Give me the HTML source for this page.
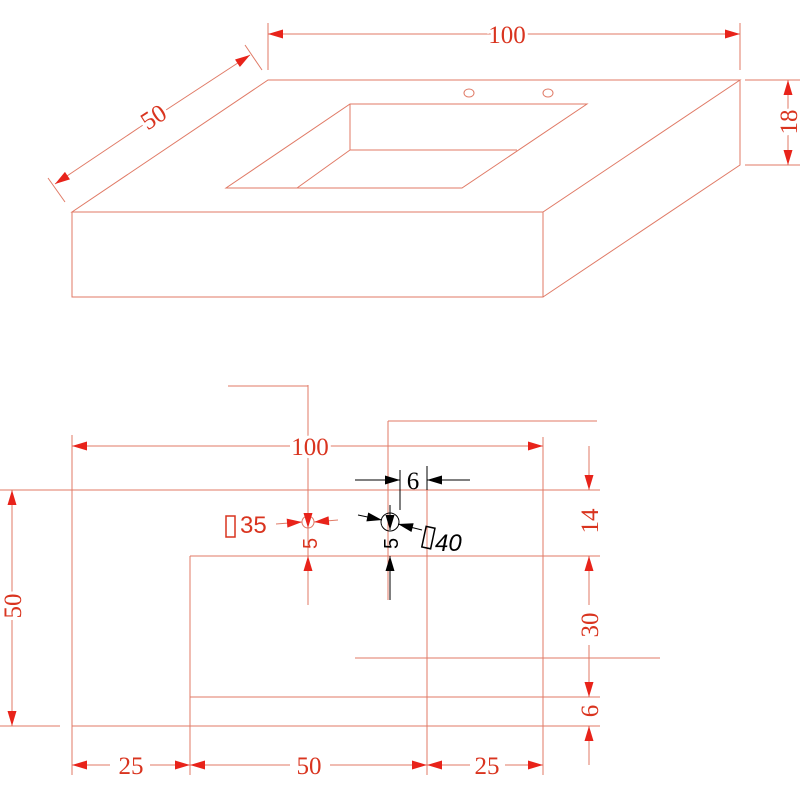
<!DOCTYPE html><html><head><style>body{margin:0;background:#fff}svg{display:block}text{font-family:"Liberation Serif",serif}</style></head><body>
<svg width="800" height="800" viewBox="0 0 800 800" xmlns="http://www.w3.org/2000/svg">
<defs>
<marker id="a" viewBox="0 0 10 6" refX="10" refY="3" markerWidth="17" markerHeight="9" markerUnits="userSpaceOnUse" orient="auto"><path d="M0,0L10,3L0,6z" fill="#e8231a"/></marker>
<marker id="b" viewBox="0 0 10 6" refX="10" refY="3" markerWidth="17" markerHeight="9" markerUnits="userSpaceOnUse" orient="auto"><path d="M0,0L10,3L0,6z" fill="#000"/></marker>
</defs>
<g stroke="#e07a66" stroke-width="1" fill="none">
<path d="M268,80H740L543,212H72Z"/>
<path d="M72,212V297H543V212M543,297L740,165V80"/>
<path d="M350,104H587L462,188H226Z"/>
<path d="M350,104V150H517M350,150L297,188"/>
<ellipse cx="469" cy="93" rx="5" ry="4"/><ellipse cx="548" cy="93" rx="5" ry="4"/>
<path d="M268,23V70M740,23V70M745,80H800M745,165H800M48,178L65,202M245,45L262,70"/>
<path d="M0,490H600M190,556H600M355,658H660M190,697H600M0,726H60M72,726H600"/>
<path d="M72,435V775M190,556V775M427,466V775M543,437V775M308,385V605M388,421V600M228,386H308M388,421H597"/>
<circle cx="308" cy="522" r="6"/>
</g>
<g stroke="#e07a66" stroke-width="1">
<line x1="480" y1="34" x2="740" y2="34" marker-end="url(#a)"/><line x1="530" y1="34" x2="268" y2="34" marker-end="url(#a)"/>
<line x1="788" y1="118" x2="788" y2="80" marker-end="url(#a)"/><line x1="788" y1="135" x2="788" y2="165" marker-end="url(#a)"/>
<line x1="140" y1="127" x2="250" y2="55" marker-end="url(#a)"/><line x1="140" y1="127" x2="55" y2="184" marker-end="url(#a)"/>
<line x1="290" y1="446" x2="72" y2="446" marker-end="url(#a)"/><line x1="330" y1="446" x2="543" y2="446" marker-end="url(#a)"/>
<line x1="12" y1="595" x2="12" y2="490" marker-end="url(#a)"/><line x1="12" y1="620" x2="12" y2="726" marker-end="url(#a)"/>
<line x1="110" y1="765" x2="72" y2="765" marker-end="url(#a)"/><line x1="150" y1="765" x2="190" y2="765" marker-end="url(#a)"/>
<line x1="290" y1="765" x2="190" y2="765" marker-end="url(#a)"/><line x1="330" y1="765" x2="427" y2="765" marker-end="url(#a)"/>
<line x1="470" y1="765" x2="427" y2="765" marker-end="url(#a)"/><line x1="505" y1="765" x2="543" y2="765" marker-end="url(#a)"/>
<line x1="589" y1="446" x2="589" y2="490" marker-end="url(#a)"/>
<line x1="589" y1="605" x2="589" y2="556" marker-end="url(#a)"/><line x1="589" y1="645" x2="589" y2="697" marker-end="url(#a)"/>
<line x1="589" y1="765" x2="589" y2="726" marker-end="url(#a)"/>
<line x1="308" y1="600" x2="308" y2="556" marker-end="url(#a)"/>
<line x1="276" y1="524" x2="302" y2="522" marker-end="url(#a)"/><line x1="338" y1="520" x2="314" y2="522" marker-end="url(#a)"/>
<line x1="308" y1="505" x2="308" y2="528" marker-end="url(#a)"/>
</g>
<g stroke="#000" stroke-width="1" fill="none">
<path d="M400,470V510M427,466V490"/>
<circle cx="390" cy="522" r="9"/>
<line x1="355" y1="480" x2="400" y2="480" marker-end="url(#b)"/><line x1="470" y1="480" x2="427" y2="480" marker-end="url(#b)"/>
<line x1="390" y1="600" x2="390" y2="556" marker-end="url(#b)"/>
<line x1="358" y1="515" x2="382" y2="520" marker-end="url(#b)"/><line x1="422" y1="530" x2="398" y2="524" marker-end="url(#b)"/>
<line x1="390" y1="505" x2="390" y2="530" marker-end="url(#b)"/>
</g>
<g fill="#d9341f" font-size="25" text-anchor="middle">
<text x="507" y="43" stroke="#fff" stroke-width="6" paint-order="stroke">100</text>
<text transform="translate(797,122) rotate(-90)" stroke="#fff" stroke-width="6" paint-order="stroke">18</text>
<text transform="translate(158,124) rotate(-33)" stroke="#fff" stroke-width="6" paint-order="stroke">50</text>
<text x="310" y="455" stroke="#fff" stroke-width="6" paint-order="stroke">100</text>
<text transform="translate(21,606) rotate(-90)" stroke="#fff" stroke-width="6" paint-order="stroke">50</text>
<text x="131" y="774" stroke="#fff" stroke-width="6" paint-order="stroke">25</text>
<text x="309" y="774" stroke="#fff" stroke-width="6" paint-order="stroke">50</text>
<text x="487" y="774" stroke="#fff" stroke-width="6" paint-order="stroke">25</text>
<text transform="translate(598,521) rotate(-90)" stroke="#fff" stroke-width="6" paint-order="stroke">14</text>
<text transform="translate(598,625) rotate(-90)" stroke="#fff" stroke-width="6" paint-order="stroke">30</text>
<text transform="translate(598,711) rotate(-90)" stroke="#fff" stroke-width="6" paint-order="stroke">6</text>
<text transform="translate(317,549) rotate(-90)" font-size="20" text-anchor="start" style="font-family:'Liberation Sans',sans-serif">5</text>
<text x="240" y="533" font-size="24" text-anchor="start" style="font-family:'Liberation Sans',sans-serif">35</text>
</g>
<rect x="226" y="516" width="9" height="21" fill="none" stroke="#d9341f" stroke-width="1.5"/>
<g fill="#000" font-size="25" text-anchor="middle">
<text x="413" y="489">6</text>
<text transform="translate(398,549) rotate(-90)" font-size="20" text-anchor="start" style="font-family:'Liberation Sans',sans-serif">5</text>
<text x="435" y="551" font-size="24" text-anchor="start" font-style="italic" style="font-family:'Liberation Sans',sans-serif">40</text>
</g>
<rect x="424" y="527" width="9" height="21" fill="none" stroke="#000" stroke-width="1.5" transform="rotate(12 428 537)"/>
</svg>
</body></html>
